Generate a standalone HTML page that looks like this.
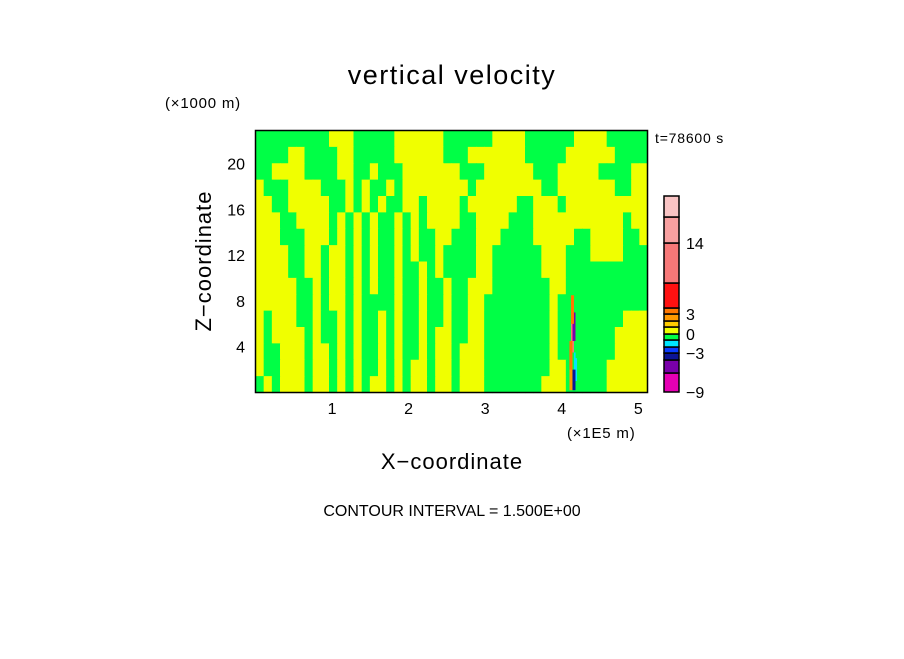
<!DOCTYPE html>
<html><head><meta charset="utf-8"><style>
body{margin:0;background:#fff;}
svg text{font-family:"Liberation Sans",sans-serif;fill:#000;}
</style></head><body>
<svg id="chart" width="904" height="654" viewBox="0 0 904 654" xmlns="http://www.w3.org/2000/svg">
<text x="452" y="84" font-size="27" text-anchor="middle" letter-spacing="1.5">vertical velocity</text>
<text x="165" y="108" font-size="15" letter-spacing="0.8">(×1000 m)</text>
<text x="655" y="143" font-size="14" letter-spacing="0.8">t=78600 s</text>
<text x="567" y="438" font-size="15" letter-spacing="0.8">(×1E5 m)</text>
<text x="452" y="469" font-size="22" text-anchor="middle" letter-spacing="1">X−coordinate</text>
<text transform="translate(211,261) rotate(-90)" font-size="22" text-anchor="middle" letter-spacing="1">Z−coordinate</text>
<text x="452" y="516" font-size="16" text-anchor="middle">CONTOUR INTERVAL = 1.500E+00</text>
<g id="field"></g>
<g id="anom"></g>
<rect x="255.5" y="130.5" width="392" height="262" fill="none" stroke="#000" stroke-width="1.5"/>
<g id="ticks"></g>
<g id="cbar"></g>
</svg>
<script>
const xTicks=[1,2,3,4,5];
const zTicks=[4,8,12,16,20];
const xMax=5.12, zMax=22.9;
const fieldRows=[
"GGGGGGGGGYYYGGGGGYYYYYYGGGGGGYYYYGGGGGGYYYYGGGGG",
"GGGGYYGGGGYYGGGGGYYYYYYGGGYYYYYYYGGGGGYYYYYYGGGG",
"GGYYYYGGGGYYGGYGGGYYYYYYYGGGYYYYYYGGGYYYYYGGGGYY",
"YGGGYYYYGGGYGYGGYGYYYYYYYYGYYYYYYYYGGYYYYYYYGGYY",
"YYGGYYYYYGGYGYGYGGYYGYYYYGYYYYYYGGYYYGYYYYYYYYYY",
"YYYGGYYYYGYGYGYGGYGYGYYYYGGYYYYGGGYYYYYYYYYYYGYY",
"YYYGGGYYYGYGYGYGGYGYGGYYGGGYYYGGGGYYYYYGGYYYYGGY",
"YYYYGGYYGYYGYGYGGYGYGGYGGGGYYGGGGGGYYYGGGYYYYGGG",
"YYYYGGYYGYYGYGYGGYGGYGYGGGGYYGGGGGGYYYGGGGGGGGGG",
"YYYYYGGYGYYGYGYGGYGGYGGYGGYYYGGGGGGGYYGGGGGGGGGG",
"YYYYYGGYGYYGYGGGGYGGYGGYGGYYGGGGGGGGYGGGGGGGGGGG",
"YGYYYGGYGGYGYGGYGYGGYGGYGGYYGGGGGGGGYGGGGGGGGYYY",
"YGYYYYGYGGYGYGGYGYGGYGYYGGYYGGGGGGGGYGGGGGGGYYYY",
"YGGYYYGYYGYGYGGYGYGGYGYYGYYYGGGGGGGGYGGGGGGGYYYY",
"YGGYYYGYYGYGYGGYGYGYYGYYGYYYGGGGGGGGYYGGGGGYYYYY",
"GYGYYYGYYGYGYGYYGYGYYGYYGYYYGGGGGGGYYYGGGGGYYYYY"];
// anomaly patches: x (1e5 m), z bottom, z top, value
const anomX=[4.12,4.14,4.16,4.18,4.14,4.12,4.16,4.20];
const anomZ0=[0.2,3.5,4.5,1.0,6.0,2.0,0.2,3.0];
const anomZ1=[4.0,7.5,7.0,3.5,8.5,4.5,2.0,5.0];
const anomV=[2,10,-6,-2,3,4,-4,-1];
const cbLevels=[-9,-6,-4.5,-3,-2,-1,0,1,2,3,6,10,14,18,22];
const cbColors=["#e600b4","#7a00aa","#0c1496","#0a3cff","#00e6ff","#00ff46","#f0ff00","#ffcc00","#ff9900","#ff7700","#ff1111","#f77878","#f8a0a0","#f9c4c4"];
const cbLabels=[-9,-3,0,3,14];
const cbEdgePx=[392,373,360,353,347,340,334,327,321,314,308,283,243,217,196];
const NS="http://www.w3.org/2000/svg";
const px=v=>255.5+v*(392/xMax), pz=v=>392.5-v*(262/zMax);
function mk(t,a,p){const e=document.createElementNS(NS,t);for(const k in a)e.setAttribute(k,a[k]);p.appendChild(e);return e;}
const field=document.getElementById('field');
const nR=fieldRows.length;
fieldRows.forEach((row,r)=>{const nC=row.length;const h=262/nR;
 for(let c=0;c<nC;c++){const w=392/nC;
  const e=mk('rect',{x:255.5+c*w,y:130.5+r*h,width:w+0.6,height:h+0.6,fill:row[c]==='G'?'#00ff46':'#f0ff00'},field);
  
  
 }});
function colorFor(v){let i=0;while(i<cbLevels.length-2&&v>=cbLevels[i+1])i++;return cbColors[i];}
const anom=document.getElementById('anom');
anomX.forEach((x,i)=>{const e=mk('rect',{x:px(x)-1.5,y:pz(anomZ1[i]),width:3,height:pz(anomZ0[i])-pz(anomZ1[i]),fill:colorFor(anomV[i])},anom);
 
 });
const tk=document.getElementById('ticks');
xTicks.forEach(t=>{const e=mk('text',{x:px(t),y:414,'font-size':16,'text-anchor':'middle'},tk);e.textContent=t;
 
 });
zTicks.forEach(t=>{const e=mk('text',{x:245,y:pz(t)+6,'font-size':16,'text-anchor':'end'},tk);e.textContent=t;
 
 });
const cb=document.getElementById('cbar');
function cy(v){for(let i=0;i<cbLevels.length-1;i++){if(v<=cbLevels[i+1]){const f=(v-cbLevels[i])/(cbLevels[i+1]-cbLevels[i]);return cbEdgePx[i]+f*(cbEdgePx[i+1]-cbEdgePx[i]);}}return cbEdgePx[cbEdgePx.length-1];}
for(let i=0;i<cbColors.length;i++){const lo=cbLevels[i],hi=cbLevels[i+1];
 const e=mk('rect',{x:664,y:cy(hi),width:15,height:cy(lo)-cy(hi),fill:cbColors[i],stroke:'#000','stroke-width':1.5},cb);
 
 }
cbLabels.forEach(l=>{const e=mk('text',{x:686,y:cy(l)+6,'font-size':16},cb);e.textContent=l<0?'−'+(-l):l;
 
 });
</script>
</body></html>
